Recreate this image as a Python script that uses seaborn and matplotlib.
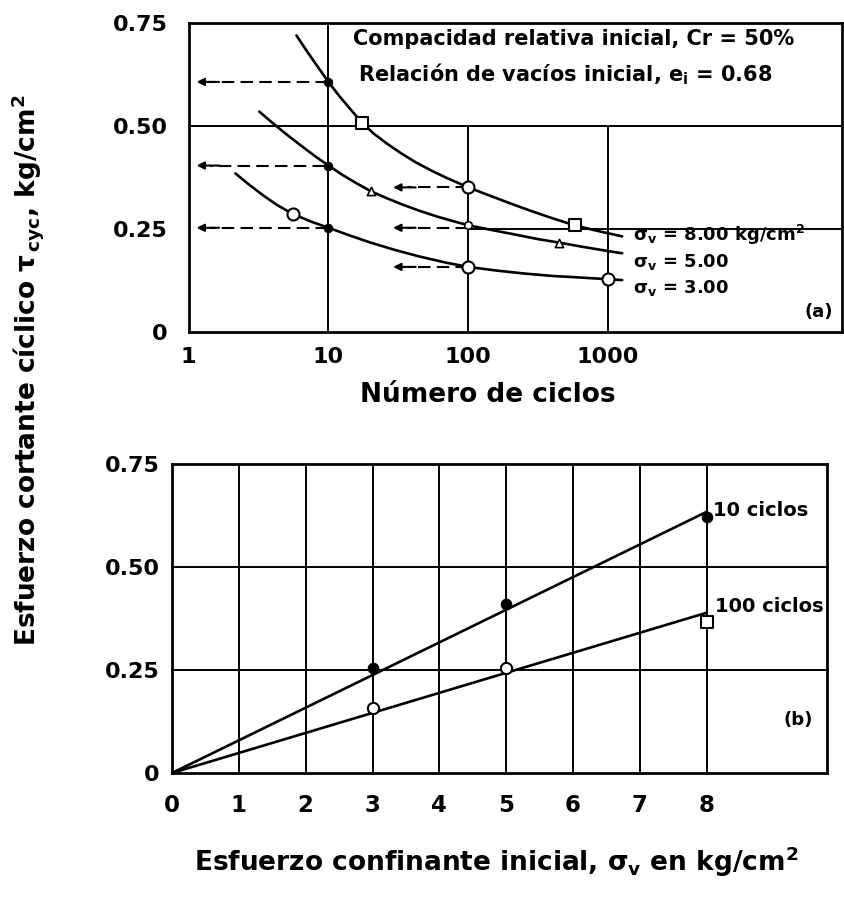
import numpy as np
import pandas as pd
import matplotlib
matplotlib.use("Agg")
import matplotlib.pyplot as plt
from matplotlib.ticker import NullLocator
import seaborn as sns

# ---------------- data: panel (a) ----------------
n_s8 = [5.9, 7, 8.5, 10, 12, 14.5, 17.4, 21, 26, 33, 42, 55, 70, 100, 140, 200, 280, 400, 575, 800, 1260]
tau_s8 = [0.72, 0.682, 0.641, 0.607, 0.572, 0.539, 0.508, 0.482, 0.458, 0.434, 0.412, 0.391, 0.374,
          0.351, 0.332, 0.312, 0.294, 0.276, 0.259, 0.247, 0.232]
n_s5 = [3.2, 4, 5, 6.5, 8, 10, 12.5, 15.5, 20, 26, 34, 45, 60, 80, 100, 150, 220, 320, 447, 650, 900, 1260]
tau_s5 = [0.535, 0.507, 0.480, 0.450, 0.427, 0.404, 0.382, 0.363, 0.342, 0.325, 0.309, 0.294, 0.280,
          0.268, 0.259, 0.247, 0.236, 0.225, 0.217, 0.207, 0.199, 0.191]
n_s3 = [2.16, 2.7, 3.4, 4.3, 5.6, 7.5, 10, 14, 20, 30, 45, 70, 100, 160, 250, 400, 650, 1000, 1260]
tau_s3 = [0.385, 0.358, 0.332, 0.308, 0.286, 0.268, 0.253, 0.235, 0.217, 0.199, 0.183, 0.168, 0.158,
          0.149, 0.142, 0.136, 0.132, 0.128, 0.126]

filled_n = [10, 10, 10]
filled_tau = [0.607, 0.404, 0.253]
square_n = [17.4, 575]
square_tau = [0.508, 0.259]
circle_n = [100, 5.6, 100, 1000]
circle_tau = [0.351, 0.286, 0.158, 0.128]
small_n = [100]
small_tau = [0.259]
tri_n = [20, 447]
tri_tau = [0.342, 0.217]

arrow_tau = [0.607, 0.404, 0.253, 0.351, 0.253, 0.158]
arrow_from = [10, 9.5, 10, 100, 100, 100]
arrow_to = [1.14, 1.14, 1.14, 29, 29, 29]

curve_labels = ["σ$_v$ = 8.00 kg/cm$^2$", "σ$_v$ = 5.00", "σ$_v$ = 3.00"]
curve_label_tau = [0.235, 0.17, 0.107]

xticks_a = [1, 10, 100, 1000]
xticklabels_a = ["1", "10", "100", "1000"]
yticks = [0, 0.25, 0.5, 0.75]
yticklabels = ["0", "0.25", "0.50", "0.75"]

# ---------------- data: panel (b) ----------------
sigma_line = [0, 8]
tau10_line = [0, 0.634]
tau100_line = [0, 0.389]
sig10_pts = [3, 5, 8]
tau10_pts = [0.254, 0.41, 0.622]
sig100_circ = [3, 5]
tau100_circ = [0.157, 0.254]
sig100_sq = [8]
tau100_sq = [0.367]
xticks_b = [0, 1, 2, 3, 4, 5, 6, 7, 8]

# ---------------- style ----------------
sns.set_theme(style="white")
plt.rcParams["font.family"] = ["DejaVu Sans"]
plt.rcParams["font.weight"] = "bold"
plt.rcParams["mathtext.default"] = "regular"
for k in ("text.color", "axes.labelcolor", "xtick.color", "ytick.color", "axes.edgecolor"):
    plt.rcParams[k] = "black"

W, H = 845, 897
fig = plt.figure(figsize=(W / 100, H / 100), dpi=100)

def box(l, t, r, b):
    return [l / W, 1 - b / H, (r - l) / W, (b - t) / H]

axa = fig.add_axes(box(188.6, 23, 842, 332))
axb = fig.add_axes(box(172, 464, 827, 773))

LW = 1.9
GW = 1.4

# ---------------- panel (a) ----------------
axa.set_xscale("log")
axa.set_xlim(1, 47000)
axa.set_ylim(0, 0.75)

axa.axvline(10, color="black", lw=GW, zorder=1)
axa.vlines([100, 1000], 0, 0.5, color="black", lw=GW, zorder=1)
axa.axhline(0.5, color="black", lw=GW, zorder=1)
axa.hlines(0.25, 100, 47000, color="black", lw=GW, zorder=1)

for n, t in [(n_s8, tau_s8), (n_s5, tau_s5), (n_s3, tau_s3)]:
    sns.lineplot(x=n, y=t, sort=False, estimator=None, color="black", lw=LW, ax=axa, zorder=3)

for t, a, b in zip(arrow_tau, arrow_from, arrow_to):
    axa.plot([a, b * 1.25], [t, t], color="black", lw=1.5, ls=(0, (6, 3)), zorder=2)
    axa.annotate("", xy=(b, t), xytext=(b * 1.45, t),
                 arrowprops=dict(arrowstyle="-|>", color="black", lw=1.5,
                                 mutation_scale=11, shrinkA=0, shrinkB=0), zorder=2)

sns.scatterplot(x=filled_n, y=filled_tau, marker="o", s=40, color="black",
                edgecolor="black", ax=axa, zorder=5)
sns.scatterplot(x=square_n, y=square_tau, marker="s", s=70, color="white",
                edgecolor="black", linewidth=1.5, ax=axa, zorder=5)
sns.scatterplot(x=circle_n, y=circle_tau, marker="o", s=75, color="white",
                edgecolor="black", linewidth=1.5, ax=axa, zorder=5)
sns.scatterplot(x=small_n, y=small_tau, marker="o", s=30, color="white",
                edgecolor="black", linewidth=1.2, ax=axa, zorder=5)
sns.scatterplot(x=tri_n, y=tri_tau, marker="^", s=35, color="white",
                edgecolor="black", linewidth=1.2, ax=axa, zorder=5)

for lab, t in zip(curve_labels, curve_label_tau):
    axa.text(1510, t, lab, fontsize=13, fontweight="bold", ha="left", va="center")

axa.text(0.2516, 0.948, "Compacidad relativa inicial, Cr = 50%", transform=axa.transAxes,
         fontsize=15, fontweight="bold", ha="left", va="center")
axa.text(0.259, 0.835, "Relación de vacíos inicial, e$_\\mathrm{i}$ = 0.68", transform=axa.transAxes,
         fontsize=15, fontweight="bold", ha="left", va="center")
axa.text(0.986, 0.065, "(a)", transform=axa.transAxes, fontsize=13, fontweight="bold",
         ha="right", va="center")

axa.set_xticks(xticks_a)
axa.set_xticklabels(xticklabels_a)
axa.xaxis.set_minor_locator(NullLocator())
axa.set_yticks(yticks)
axa.set_yticklabels(yticklabels)
axa.tick_params(axis="x", length=0, pad=11, labelsize=16)
axa.tick_params(axis="y", length=0, pad=15, labelsize=16)
axa.set_xlabel("Número de ciclos", fontsize=19, fontweight="bold", va="center")
axa.xaxis.set_label_coords(0.458, -0.204)
axa.set_ylabel("")

# ---------------- panel (b) ----------------
axb.set_xlim(0, 9.8)
axb.set_ylim(0, 0.75)
axb.vlines(xticks_b[1:], 0, 0.75, color="black", lw=GW, zorder=1)
axb.hlines([0.25, 0.5], 0, 9.8, color="black", lw=GW, zorder=1)

sns.lineplot(x=sigma_line, y=tau10_line, estimator=None, color="black", lw=LW, ax=axb, zorder=3)
sns.lineplot(x=sigma_line, y=tau100_line, estimator=None, color="black", lw=LW, ax=axb, zorder=3)
sns.scatterplot(x=sig10_pts, y=tau10_pts, marker="o", s=60, color="black",
                edgecolor="black", ax=axb, zorder=5)
sns.scatterplot(x=sig100_circ, y=tau100_circ, marker="o", s=65, color="white",
                edgecolor="black", linewidth=1.5, ax=axb, zorder=5)
sns.scatterplot(x=sig100_sq, y=tau100_sq, marker="s", s=65, color="white",
                edgecolor="black", linewidth=1.5, ax=axb, zorder=5)

axb.text(8.1, 0.638, "10 ciclos", fontsize=14, fontweight="bold", ha="left", va="center")
axb.text(8.12, 0.403, "100 ciclos", fontsize=14, fontweight="bold", ha="left", va="center")
axb.text(0.956, 0.172, "(b)", transform=axb.transAxes, fontsize=13, fontweight="bold",
         ha="center", va="center")

axb.set_xticks(xticks_b)
axb.set_xticklabels([str(v) for v in xticks_b])
axb.set_yticks(yticks)
axb.set_yticklabels(yticklabels)
axb.tick_params(axis="x", length=0, pad=15, labelsize=16.5)
axb.tick_params(axis="y", length=0, pad=9, labelsize=16)
axb.set_xlabel("Esfuerzo confinante inicial, σ$_v$ en kg/cm$^2$", fontsize=19,
               fontweight="bold", va="center")
axb.xaxis.set_label_coords(0.495, -0.288)
axb.set_ylabel("")

for ax in (axa, axb):
    for s in ax.spines.values():
        s.set_visible(True)
        s.set_color("black")
        s.set_linewidth(2.0)
    ax.grid(False)

fig.text(28 / W, 1 - 370 / H, "Esfuerzo cortante cíclico $\\tau_{\\,cyc}$, kg/cm$^2$",
         rotation=90, fontsize=19, fontweight="bold", ha="center", va="center")

fig.savefig("out.png", dpi=100, facecolor="white")
